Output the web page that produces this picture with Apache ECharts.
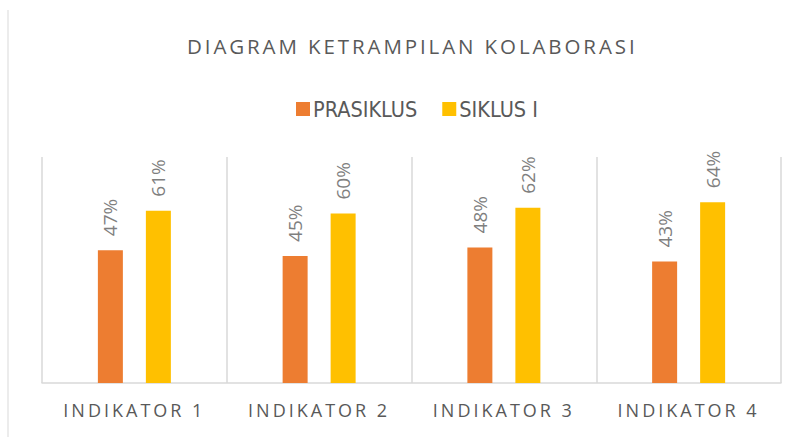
<!DOCTYPE html>
<html>
<head>
<meta charset="utf-8">
<script src="https://cdn.jsdelivr.net/npm/echarts@6/dist/echarts.min.js"></script>
<style>
  html, body { margin: 0; padding: 0; background: #fff; }
  #chart { width: 797px; height: 437px; }
</style>
</head>
<body>
<div id="chart"></div>
<script>
// diagram ketrampilan kolaborasi
const categories = ["INDIKATOR 1", "INDIKATOR 2", "INDIKATOR 3", "INDIKATOR 4"];
const prasiklus = [47, 45, 48, 43];
const siklus1 = [61, 60, 62, 64];

const chart = echarts.init(document.getElementById("chart"), null, { renderer: "svg" });

const labelStyle = {
  show: true,
  position: "top",
  rotate: 90,
  align: "left",
  verticalAlign: "middle",
  distance: 14,
  color: "#7f7f7f",
  fontSize: 19,
  fontFamily: "Open Sans",
  formatter: "{c}%",
};

const option = {
  backgroundColor: "#fff",
  title: {
    text: "DIAGRAM KETRAMPILAN KOLABORASI",
    left: 182,
    top: 30,
    textStyle: {
      fontSize: 20.5,
      fontWeight: "normal",
      color: "#595959",
      fontFamily: "Open Sans",
    },
  },
  legend: {
    top: 93,
    left: 291,
    icon: "rect",
    itemWidth: 14,
    itemHeight: 14,
    itemGap: 25,
    textStyle: {
      fontSize: 21.5,
      color: "#595959",
      fontFamily: "Liberation Sans Narrow, DejaVu Sans Condensed",
      padding: [0, 0, 0, -2],
    },
    data: ["PRASIKLUS", "SIKLUS I"],
  },
  grid: {
    left: 42,
    right: 16,
    top: 157,
    bottom: 54,
  },
  xAxis: {
    type: "category",
    data: categories,
    axisLine: { lineStyle: { color: "#d9d9d9", width: 1.5 } },
    axisTick: { show: false },
    splitLine: { show: true, lineStyle: { color: "#d9d9d9", width: 1.5 } },
    axisLabel: {
      color: "#595959",
      fontSize: 18,
      fontFamily: "Open Sans",
      margin: 18,
    },
  },
  yAxis: {
    type: "value",
    min: 0,
    max: 80,
    show: false,
    splitLine: { show: false },
  },
  series: [
    {
      name: "PRASIKLUS",
      type: "bar",
      data: prasiklus,
      barWidth: 25,
      barGap: "92%",
      itemStyle: { color: "#ed7d31" },
      label: labelStyle,
    },
    {
      name: "SIKLUS I",
      type: "bar",
      data: siklus1,
      barWidth: 25,
      itemStyle: { color: "#ffc000" },
      label: labelStyle,
    },
  ],
  graphic: [
    {
      type: "line",
      shape: { x1: 8, y1: 10, x2: 8, y2: 437 },
      style: { stroke: "#d9d9d9", lineWidth: 1 },
      silent: true,
    },
  ],
};

chart.setOption(option);

// spaced capitals for title and category names
const spaceOut = () => {
  document.querySelectorAll("#chart svg text").forEach((t) => {
    const s = t.textContent;
    if (s.indexOf("DIAGRAM") === 0) t.setAttribute("letter-spacing", "2.9");
    if (s.indexOf("INDIKATOR") === 0) t.setAttribute("letter-spacing", "3");
  });
};
chart.on("finished", spaceOut);
spaceOut();
</script>
</body>
</html>
